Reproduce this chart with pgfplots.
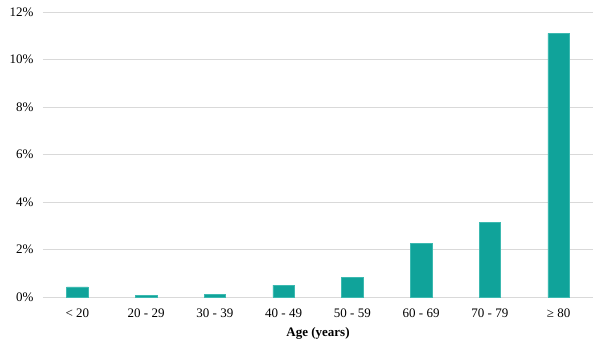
\documentclass[border=0pt]{standalone}
\usepackage{pgfplots}
\pgfplotsset{compat=1.18}
\usepackage{fontspec}
\setmainfont{Liberation Serif}
\definecolor{barc}{RGB}{16,163,154}
\definecolor{bare}{RGB}{60,185,176}
\definecolor{gridc}{RGB}{217,217,217}
\begin{document}
\begin{tikzpicture}
\begin{axis}[
  scale only axis,
  width=550pt, height=285pt,
  xmin=-0.5, xmax=7.5, ymin=0, ymax=12,
  axis line style={draw=none},
  xtick={0,...,7},
  xticklabels={{< 20},{20 - 29},{30 - 39},{40 - 49},{50 - 59},{60 - 69},{70 - 79},{≥ 80}},
  ytick={0,2,...,12},
  yticklabel={\pgfmathprintnumber{\tick}\%},
  /pgf/number format/assume math mode=true,
  major tick length=0pt,
  ymajorgrids, grid style={gridc, line width=0.9pt},
  tick label style={font=\fontsize{13}{15}\selectfont},
  yticklabel style={xshift=-6pt},
  xticklabel style={yshift=-8pt},
  xlabel={\textbf{Age (years)}},
  xlabel style={font=\fontsize{13}{15}\selectfont, yshift=-3pt},
  ybar, bar width=21.6pt,
  clip=false,
]
\addplot[fill=barc, draw=bare, line width=0.5pt] coordinates {
(0,0.43) (1,0.08) (2,0.12) (3,0.50) (4,0.83) (5,2.26) (6,3.13) (7,11.1)
};
\coordinate (sw) at (rel axis cs:0,0);
\coordinate (ne) at (rel axis cs:1,1);
\end{axis}
\pgfresetboundingbox
\path[use as bounding box] ([shift={(-43pt,-55pt)}]sw) rectangle ([shift={(12pt,12pt)}]ne);
\end{tikzpicture}
\end{document}
